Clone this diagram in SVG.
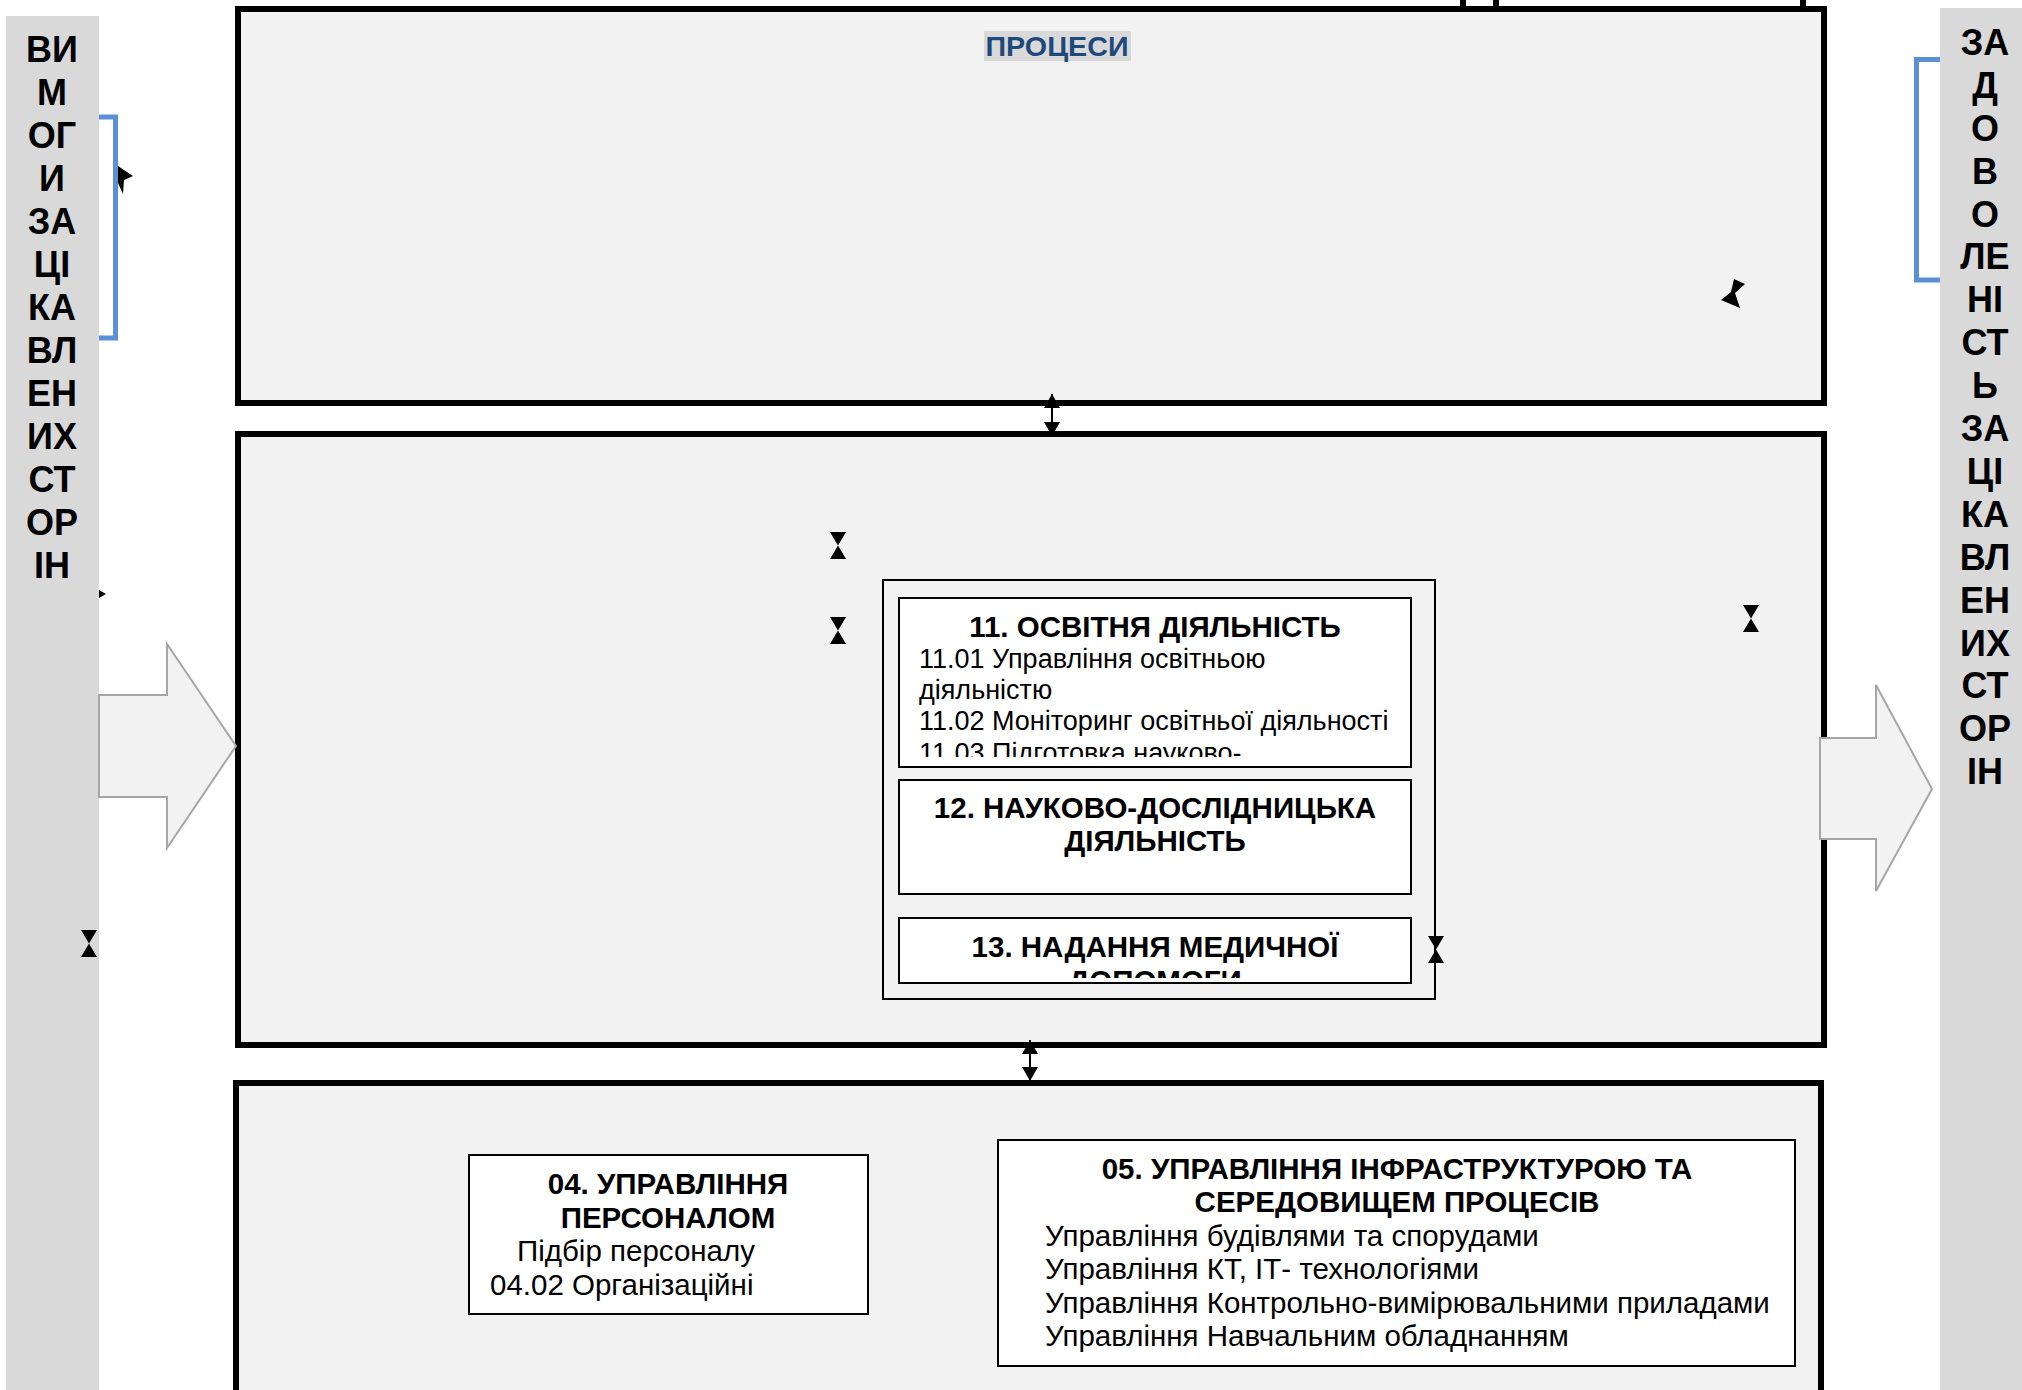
<svg xmlns="http://www.w3.org/2000/svg" width="2022" height="1390" viewBox="0 0 2022 1390">
<style>
.big{fill:#f2f2f2;stroke:#000;stroke-width:6}
.bar{fill:#d9d9d9}
.inner{fill:#f2f2f2;stroke:#000;stroke-width:2}
.node{fill:#fff;stroke:#000;stroke-width:2}
.fat{fill:#f2f2f2;stroke:#a6a6a6;stroke-width:2}
.brk{fill:none;stroke:#5b8fd6;stroke-width:5}
.vt{font-family:"Liberation Sans",Arial,sans-serif;font-weight:bold;font-size:36px;fill:#000;text-anchor:middle}
.h{font-family:"Liberation Sans",Arial,sans-serif;font-weight:bold;font-size:29.5px;fill:#000;text-anchor:middle}
.t{font-family:"Liberation Sans",Arial,sans-serif;font-size:27px;fill:#000}
.t2{font-family:"Liberation Sans",Arial,sans-serif;font-size:29.5px;fill:#000}
.mk{fill:#000}
.con{stroke:#000;stroke-width:2;fill:none}
</style>
<defs>
<path id="hg" d="M0,0 H16 L8,13.5 L16,27 H0 L8,13.5 Z"/>
<marker id="ah" markerWidth="14" markerHeight="16" refX="14" refY="8" orient="auto-start-reverse" markerUnits="userSpaceOnUse" viewBox="0 0 14 16">
<path d="M0,0 L14,8 L0,16 Z" fill="#000"/>
</marker>
<clipPath id="c11"><rect x="899" y="598" width="512" height="159"/></clipPath>
<clipPath id="c13"><rect x="899" y="918" width="512" height="60"/></clipPath>
</defs>

<g id="left-bar">
<rect class="bar" x="6" y="16" width="93" height="1374"/>
<text class="vt">
<tspan x="52" y="62">ВИ</tspan><tspan x="52" y="105">М</tspan><tspan x="52" y="148">ОГ</tspan><tspan x="52" y="191">И</tspan><tspan x="52" y="234">ЗА</tspan><tspan x="52" y="277">ЦІ</tspan><tspan x="52" y="320">КА</tspan><tspan x="52" y="363">ВЛ</tspan><tspan x="52" y="406">ЕН</tspan><tspan x="52" y="449">ИХ</tspan><tspan x="52" y="492">СТ</tspan><tspan x="52" y="535">ОР</tspan><tspan x="52" y="578">ІН</tspan>
</text>
</g>

<g id="right-bar">
<rect class="bar" x="1940" y="8" width="82" height="1382"/>
<text class="vt">
<tspan x="1985" y="55">ЗА</tspan><tspan x="1985" y="98">Д</tspan><tspan x="1985" y="141">О</tspan><tspan x="1985" y="184">В</tspan><tspan x="1985" y="227">О</tspan><tspan x="1985" y="269">ЛЕ</tspan><tspan x="1985" y="312">НІ</tspan><tspan x="1985" y="355">СТ</tspan><tspan x="1985" y="398">Ь</tspan><tspan x="1985" y="441">ЗА</tspan><tspan x="1985" y="484">ЦІ</tspan><tspan x="1985" y="527">КА</tspan><tspan x="1985" y="570">ВЛ</tspan><tspan x="1985" y="613">ЕН</tspan><tspan x="1985" y="656">ИХ</tspan><tspan x="1985" y="698">СТ</tspan><tspan x="1985" y="741">ОР</tspan><tspan x="1985" y="784">ІН</tspan>
</text>
</g>

<g id="brackets">
<path class="brk" d="M99,117 H115.5 V338 H99"/>
<path class="brk" d="M1940,59.5 H1916.5 V280 H1940"/>
</g>

<g id="top-stubs">
<line x1="1463" y1="0" x2="1463" y2="8" stroke="#000" stroke-width="6"/>
<line x1="1496" y1="0" x2="1496" y2="8" stroke="#000" stroke-width="6"/>
<line x1="1803" y1="0" x2="1803" y2="8" stroke="#000" stroke-width="6"/>
</g>

<g id="processes-box">
<rect class="big" x="238" y="9" width="1586" height="394"/>
<rect x="984" y="31" width="147" height="30" fill="#d9d9d9"/>
<text x="1057" y="56" font-family="Liberation Sans,Arial,sans-serif" font-weight="bold" font-size="28" fill="#1f497d" text-anchor="middle" textLength="143" lengthAdjust="spacingAndGlyphs">ПРОЦЕСИ</text>
</g>

<g id="core-box">
<rect class="big" x="238" y="434" width="1586" height="611"/>
<rect class="inner" x="883" y="580" width="552" height="419"/>
</g>

<g id="node-11">
<rect class="node" x="899" y="598" width="512" height="169"/>
<text class="h" x="1155" y="637">11. ОСВІТНЯ ДІЯЛЬНІСТЬ</text>
<g clip-path="url(#c11)">
<text class="t" x="919" y="668">11.01 Управління освітньою</text>
<text class="t" x="919" y="699">діяльністю</text>
<text class="t" x="919" y="730">11.02 Моніторинг освітньої діяльності</text>
<text class="t" x="919" y="762">11.03 Підготовка науково-</text>
</g>
</g>

<g id="node-12">
<rect class="node" x="899" y="780" width="512" height="114"/>
<text class="h" x="1155" y="818">12. НАУКОВО-ДОСЛІДНИЦЬКА</text>
<text class="h" x="1155" y="851">ДІЯЛЬНІСТЬ</text>
</g>

<g id="node-13">
<rect class="node" x="899" y="918" width="512" height="65"/>
<text class="h" x="1155" y="957">13. НАДАННЯ МЕДИЧНОЇ</text>
<g clip-path="url(#c13)"><text class="h" x="1155" y="991">ДОПОМОГИ</text></g>
</g>

<g id="support-box">
<rect class="big" x="236" y="1083" width="1585" height="320"/>
</g>

<g id="node-04">
<rect class="node" x="469" y="1155" width="399" height="159"/>
<text class="h" x="668" y="1194">04. УПРАВЛІННЯ</text>
<text class="h" x="668" y="1228">ПЕРСОНАЛОМ</text>
<text class="t2" x="517" y="1261">Підбір персоналу</text>
<text class="t2" x="490" y="1295">04.02 Організаційні</text>
</g>

<g id="node-05">
<rect class="node" x="998" y="1140" width="797" height="226"/>
<text class="h" x="1397" y="1179">05. УПРАВЛІННЯ ІНФРАСТРУКТУРОЮ ТА</text>
<text class="h" x="1397" y="1212">СЕРЕДОВИЩЕМ ПРОЦЕСІВ</text>
<text class="t2" x="1045" y="1246">Управління будівлями та спорудами</text>
<text class="t2" x="1045" y="1279">Управління КТ, ІТ- технологіями</text>
<text class="t2" x="1045" y="1313">Управління Контрольно-вимірювальними приладами</text>
<text class="t2" x="1045" y="1346">Управління Навчальним обладнанням</text>
</g>

<g id="input-arrow">
<path class="fat" d="M99,695 H167 V644 L236,746 L167,848 V797 H99 Z"/>
</g>
<g id="output-arrow">
<path class="fat" d="M1820,738 H1876 V685 L1932,789 L1876,891 V839 H1820 Z"/>
</g>

<g id="connectors">
<line class="con" x1="1052" y1="394" x2="1052" y2="436" marker-start="url(#ah)" marker-end="url(#ah)"/>
<line class="con" x1="1030" y1="1040" x2="1030" y2="1081" marker-start="url(#ah)" marker-end="url(#ah)"/>
</g>

<g id="markers">
<use href="#hg" class="mk" x="830" y="532"/>
<use href="#hg" class="mk" x="830" y="617"/>
<use href="#hg" class="mk" x="1743" y="605"/>
<use href="#hg" class="mk" x="81" y="930"/>
<use href="#hg" class="mk" x="1428" y="936"/>
<path class="mk" d="M118,166 L133,176 L124,180 L123,194 L118,183 Z"/>
<path class="mk" d="M1734,279 L1745,284 L1735,293 L1740,308 L1721,300 L1731,292 Z"/>
<path class="mk" d="M99,590 L106,594 L99,598 Z"/>
</g>
</svg>
